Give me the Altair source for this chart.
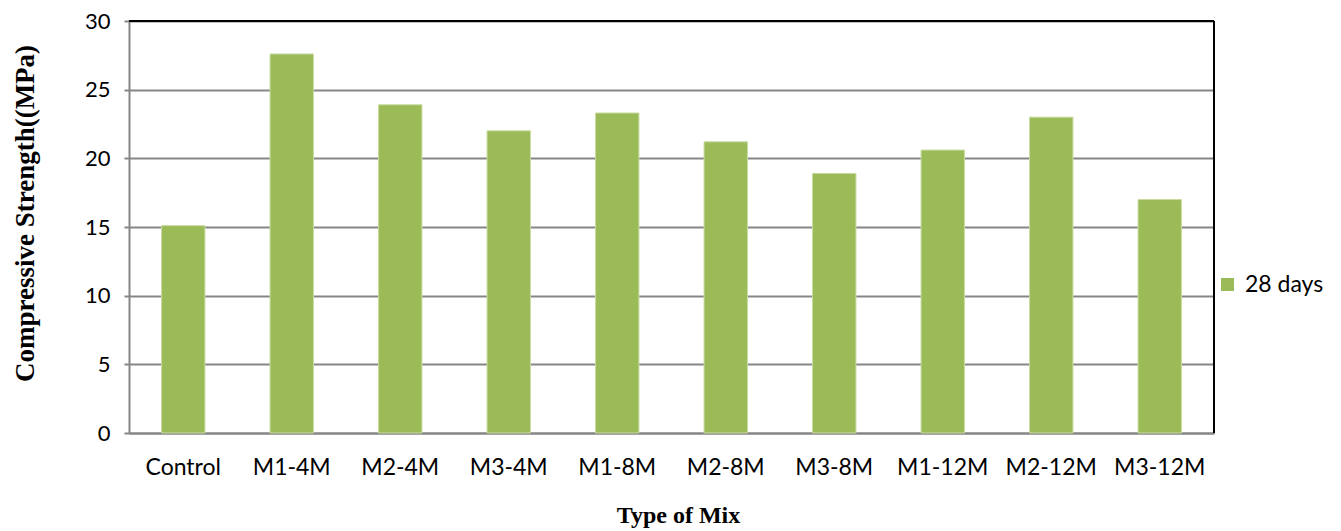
import altair as alt
import pandas as pd

mixes = ["Control", "M1-4M", "M2-4M", "M3-4M", "M1-8M", "M2-8M", "M3-8M", "M1-12M", "M2-12M", "M3-12M"]
strength_28 = [15.1, 27.6, 23.9, 22.0, 23.3, 21.2, 18.9, 20.6, 23.0, 17.0]
series = ["28 days"] * len(mixes)

df = pd.DataFrame({"mix": mixes, "strength": strength_28, "series": series})

W, H = 1085, 412
label_font = "Lato"
title_font = "Liberation Serif"

bars = alt.Chart(df).mark_bar(color="#9BBB59", stroke="#C9DBA0", strokeWidth=1).encode(
    x=alt.X("mix:N", sort=mixes,
            scale=alt.Scale(paddingInner=0.6, paddingOuter=0.3),
            axis=alt.Axis(title="Type  of Mix", labelAngle=0, labelFont=label_font,
                          labelFontSize=23, labelColor="#000000", labelPadding=23,
                          ticks=False, domainColor="#868686", domainWidth=2,
                          titleFont=title_font, titleFontSize=24, titleFontWeight="bold",
                          titleColor="#000000", titleX=549, titleY=82,
                          titleBaseline="middle", titleAlign="center")),
    y=alt.Y("strength:Q",
            scale=alt.Scale(domain=[0, 30], nice=False),
            axis=alt.Axis(title="Compressive Strength((MPa)", values=[0, 5, 10, 15, 20, 25, 30],
                          labelFont=label_font, labelFontSize=22, labelColor="#000000",
                          labelPadding=14, tickSize=5, tickColor="#868686", tickWidth=2,
                          domainColor="#868686", domainWidth=2,
                          grid=True, gridColor="#868686", gridWidth=2,
                          titleFont=title_font, titleFontSize=27, titleFontWeight="bold",
                          titleColor="#000000", titleX=-104, titleY=192,
                          titleBaseline="middle", titleAlign="center", titleAngle=-90)),
    fill=alt.Fill("series:N", scale=alt.Scale(range=["#9BBB59"]),
                  legend=alt.Legend(title=None, orient="none", legendX=1087, legendY=252,
                                    symbolType="square", symbolSize=169, symbolStrokeWidth=0,
                                    labelFont=label_font, labelFontSize=23, labelColor="#000000",
                                    labelOffset=6)),
)

top_border = alt.Chart(df).mark_rule(color="#000000", strokeWidth=2).encode(
    x=alt.value(0), x2=alt.value(W), y=alt.value(0))
right_border = alt.Chart(df).mark_rule(color="#000000", strokeWidth=2).encode(
    x=alt.value(W), y=alt.value(0), y2=alt.value(H))

chart = alt.layer(bars, top_border, right_border).properties(
    width=W, height=H,
    autosize=alt.AutoSizeParams(type="none"),
    padding={"left": 121, "top": 13, "right": 119, "bottom": 98},
).configure_view(stroke=None).configure(background="#ffffff")

chart.save("out.html", embed_options={"renderer": "svg", "actions": False})
